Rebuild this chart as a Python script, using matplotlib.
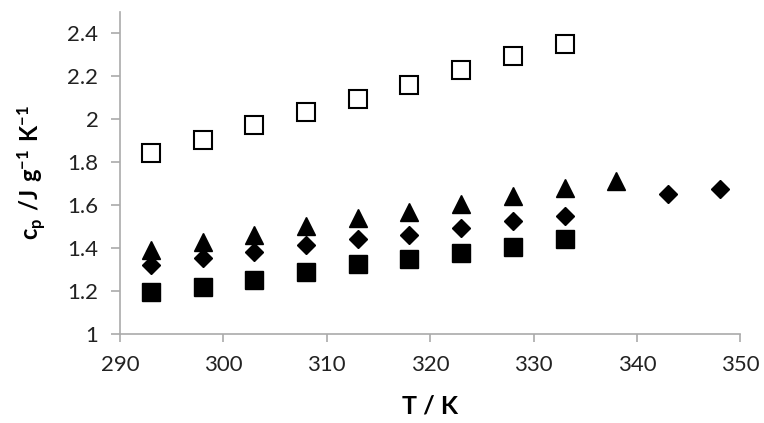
import matplotlib
matplotlib.use('Agg')
import matplotlib.pyplot as plt

plt.rcParams['font.family'] = ['Lato', 'DejaVu Sans']
plt.rcParams['mathtext.fontset'] = 'custom'
plt.rcParams['mathtext.rm'] = 'Lato'
plt.rcParams['mathtext.bf'] = 'Lato:bold'

# temperatures (K)
t_main = [293, 298, 303, 308, 313, 318, 323, 328, 333]
t_tri = [293, 298, 303, 308, 313, 318, 323, 328, 333, 338]
t_dia = [293, 298, 303, 308, 313, 318, 323, 328, 333, 343, 348]

# heat capacities (J g-1 K-1)
cp_open = [1.843, 1.903, 1.971, 2.032, 2.095, 2.160, 2.229, 2.293, 2.349]
cp_tri = [1.392, 1.427, 1.462, 1.500, 1.540, 1.565, 1.603, 1.643, 1.678, 1.712]
cp_dia = [1.320, 1.351, 1.379, 1.412, 1.441, 1.460, 1.491, 1.525, 1.550, 1.650, 1.673]
cp_sq = [1.196, 1.219, 1.250, 1.289, 1.323, 1.348, 1.378, 1.405, 1.441]

x_ticks = [290, 300, 310, 320, 330, 340, 350]
y_ticks = [1, 1.2, 1.4, 1.6, 1.8, 2, 2.2, 2.4]
y_ticklabels = ['1', '1.2', '1.4', '1.6', '1.8', '2', '2.2', '2.4']

fig = plt.figure(figsize=(7.64, 4.23), dpi=100)
ax = fig.add_axes([0.157, 0.211, 0.812, 0.761])

ax.plot(t_main, cp_open, ls='none', marker='s', ms=12.5, mfc='white', mec='black', mew=1.5)
ax.plot(t_tri, cp_tri, ls='none', marker='^', ms=13.5, color='black')
ax.plot(t_dia, cp_dia, ls='none', marker='D', ms=9.5, color='black')
ax.plot(t_main, cp_sq, ls='none', marker='s', ms=13.5, color='black')

ax.set_xlim(290, 350)
ax.set_ylim(1, 2.5)
ax.set_xticks(x_ticks)
ax.set_yticks(y_ticks)
ax.set_yticklabels(y_ticklabels)

for s in ['top', 'right']:
    ax.spines[s].set_visible(False)
for s in ['left', 'bottom']:
    ax.spines[s].set_color('#aaaaaa')
    ax.spines[s].set_linewidth(1.2)
ax.tick_params(axis='both', colors='#aaaaaa', labelcolor='#222222', labelsize=16, width=1.2)
ax.tick_params(axis='y', length=6.5, pad=9)
ax.tick_params(axis='x', length=6, pad=9)

ax.set_xlabel('T / K', fontsize=18, fontweight='bold', labelpad=14)
ax.set_ylabel(r'$\mathbf{c_p\ /J\ g^{-1}\ K^{-1}}$', fontsize=17, labelpad=14)

fig.savefig('out.png', dpi=100)
